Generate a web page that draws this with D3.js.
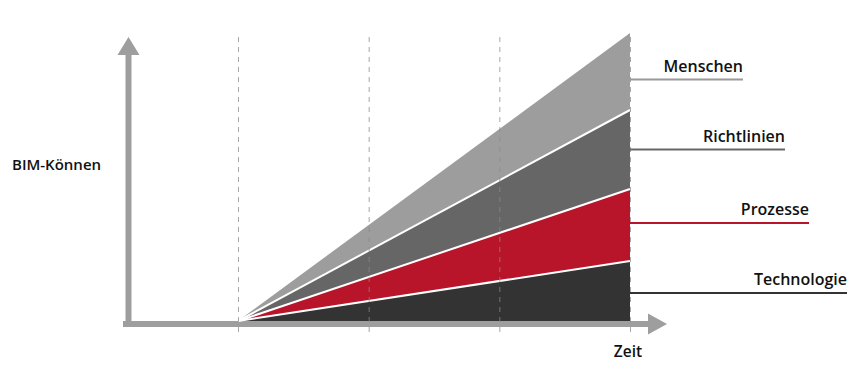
<!DOCTYPE html>
<html><head><meta charset="utf-8">
<script src="https://cdn.jsdelivr.net/npm/d3@7"></script>
<style>
html,body{margin:0;padding:0;background:#fff;}
svg{display:block;font-family:"Open Sans",sans-serif;}
</style></head>
<body><svg id="c" width="865" height="381"></svg>
<script>
// ---- data ----
const timeSteps = [0, 1, 2, 3];            // dashed guide positions
const pointTimes = [0, 3];                 // where the values are read
const seriesNames = ["Technologie", "Prozesse", "Richtlinien", "Menschen"];
const technologie = [0, 60];
const prozesse = [0, 72];
const richtlinien = [0, 79];
const menschen = [0, 77];
const yAxisLabel = "BIM-Können";
const xAxisLabel = "Zeit";

// ---- layout / style ----
const colors = {Technologie:"#333333", Prozesse:"#b8152b", Richtlinien:"#666666", Menschen:"#9d9d9d"};
const lineColors = {Technologie:"#333333", Prozesse:"#b8152b", Richtlinien:"#666666", Menschen:"#999999"};
const labelEnd = {Technologie:847, Prozesse:809, Richtlinien:785, Menschen:743};
const labelOffset = {Technologie:2, Prozesse:-2, Richtlinien:0, Menschen:8};
const axisColor = "#9e9e9e";

const svg = d3.select("#c");
const x = d3.scaleLinear().domain([0, 3]).range([238, 630]);
const y = d3.scaleLinear().domain([0, 288]).range([321, 33]);

const table = pointTimes.map((t, i) => ({
  t, Technologie: technologie[i], Prozesse: prozesse[i], Richtlinien: richtlinien[i], Menschen: menschen[i]
}));
const stack = d3.stack().keys(seriesNames)(table);

// axes
const axY = 128.5, axX = 324;
svg.append("rect").attr("x", axY - 3).attr("y", 52).attr("width", 6).attr("height", axX + 3 - 52).attr("fill", axisColor);
svg.append("path").attr("d", `M${axY},37 L${axY+11},55 L${axY-11},55 Z`).attr("fill", axisColor);
svg.append("rect").attr("x", 123).attr("y", axX - 3).attr("width", 650 - 123).attr("height", 6).attr("fill", axisColor);
svg.append("path").attr("d", `M667,${axX} L648,${axX-10.5} L648,${axX+10.5} Z`).attr("fill", axisColor);

// areas
const area = d3.area().x(d => x(d.data.t)).y0(d => y(d[0])).y1(d => y(d[1]));
svg.append("g").selectAll("path").data(stack).join("path")
  .attr("d", area).attr("fill", d => colors[d.key]);
const topLine = d3.line().x(d => x(d.data.t)).y(d => y(d[1]));
svg.append("g").selectAll("path").data(stack.slice(0, 3)).join("path")
  .attr("d", topLine).attr("fill", "none").attr("stroke", "#fff").attr("stroke-width", 2);

// dashed guides
svg.append("g").selectAll("line").data(timeSteps).join("line")
  .attr("x1", d => x(d) + 0.5).attr("x2", d => x(d) + 0.5)
  .attr("y1", 37).attr("y2", 334)
  .attr("stroke", "#8a8a8a").attr("stroke-opacity", 0.75)
  .attr("stroke-width", 1).attr("stroke-dasharray", "5,5");

// series labels
const last = pointTimes.length - 1;
const lg = svg.append("g").selectAll("g").data(stack).join("g");
lg.append("line")
  .attr("x1", x(3)).attr("x2", d => labelEnd[d.key])
  .attr("y1", d => (y(d[last][0]) + y(d[last][1])) / 2 + labelOffset[d.key])
  .attr("y2", d => (y(d[last][0]) + y(d[last][1])) / 2 + labelOffset[d.key])
  .attr("stroke", d => lineColors[d.key]).attr("stroke-width", 2);
lg.append("text")
  .attr("x", d => labelEnd[d.key])
  .attr("y", d => (y(d[last][0]) + y(d[last][1])) / 2 + labelOffset[d.key] - 8)
  .attr("text-anchor", "end").attr("font-size", 16).attr("font-weight", 600).attr("fill", "#111")
  .text(d => d.key);

// axis labels
svg.append("text").attr("x", 12).attr("y", 170).attr("font-size", 15).attr("font-weight", 600)
  .attr("fill", "#111").text(yAxisLabel);
svg.append("text").attr("x", x(3) - 2).attr("y", 357).attr("text-anchor", "middle").attr("font-size", 15.5)
  .attr("font-weight", 600).attr("fill", "#111").text(xAxisLabel);
</script></body></html>
